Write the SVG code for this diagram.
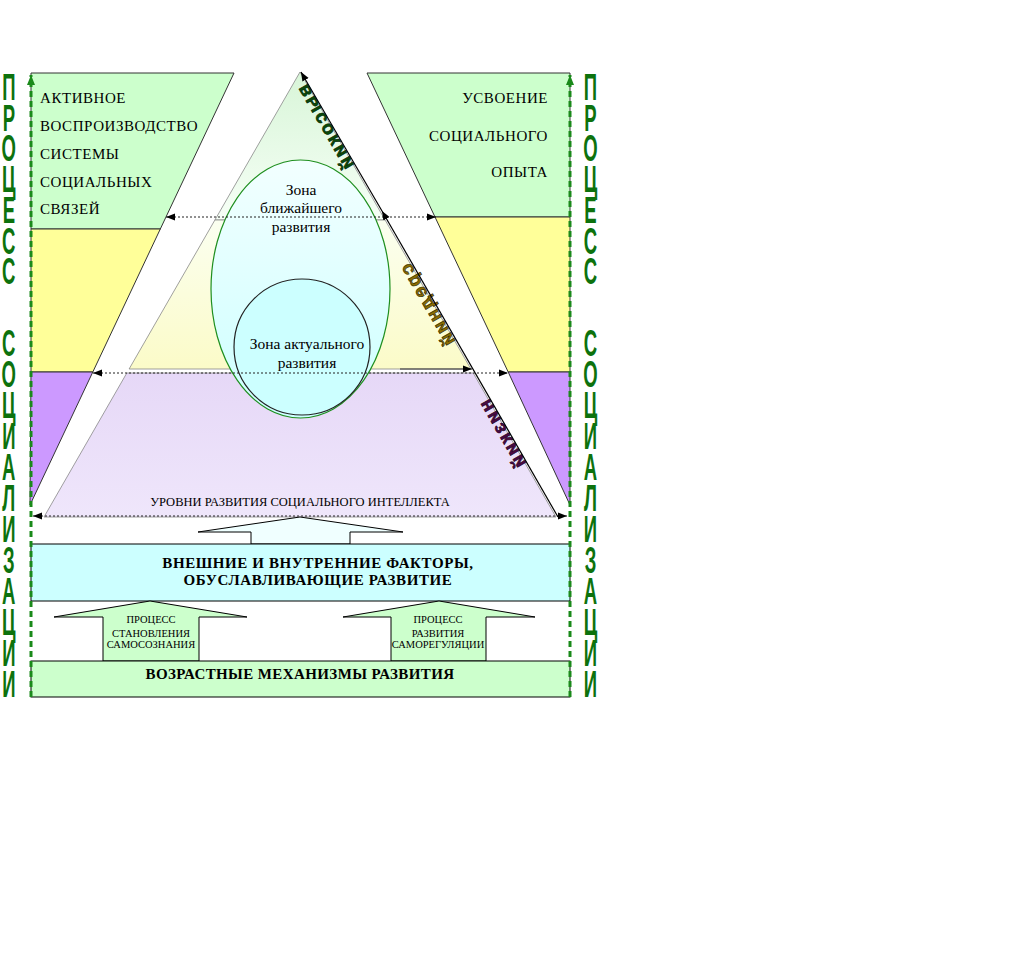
<svg xmlns="http://www.w3.org/2000/svg" width="1015" height="954" viewBox="0 0 1015 954">
<style>
.band{stroke:#333;stroke-width:1}
.pyr{stroke:#888;stroke-width:0.8}
.tx{font-family:"Liberation Serif","Times New Roman",serif;fill:#000}
.big{font-size:15px;letter-spacing:0.55px}
.bold{font-weight:bold}
.sm{font-size:10.5px}
.vt{font-family:"Liberation Sans",Arial,sans-serif;font-size:37px;font-weight:bold;fill:#0d720d;text-anchor:middle}
.dot{stroke:#222;stroke-width:1;stroke-dasharray:2 2;fill:none}
.gd{stroke:#1a8a1a;stroke-width:3;stroke-dasharray:6 4;fill:none}
.rot{font-family:"Liberation Sans",Arial,sans-serif;font-weight:bold;font-size:19px;stroke-width:0.6;letter-spacing:2px}
</style>
<defs>
<marker id="ah" viewBox="0 0 10 10" refX="10" refY="5" markerWidth="9" markerHeight="9" orient="auto-start-reverse" markerUnits="userSpaceOnUse"><path d="M0,1 L10,5 L0,9 z" fill="#000"/></marker>
<marker id="ag" viewBox="0 0 10 10" refX="10" refY="5" markerWidth="10" markerHeight="10" orient="auto" markerUnits="userSpaceOnUse"><path d="M0,1 L10,5 L0,9 z" fill="#1a8a1a"/></marker>
<linearGradient id="gTop" x1="0" y1="0" x2="0" y2="1"><stop offset="0" stop-color="#d8f5d8"/><stop offset="1" stop-color="#f6fff6"/></linearGradient>
<linearGradient id="gMid" x1="0" y1="0" x2="0" y2="1"><stop offset="0" stop-color="#fbfff0"/><stop offset="1" stop-color="#fbfbc8"/></linearGradient>
<linearGradient id="gLow" x1="0" y1="0" x2="0" y2="1"><stop offset="0" stop-color="#e6d8f7"/><stop offset="1" stop-color="#efe6fb"/></linearGradient>
<linearGradient id="gEll" x1="0" y1="0" x2="0" y2="1"><stop offset="0" stop-color="#f2ffff"/><stop offset="1" stop-color="#ccffff"/></linearGradient>
</defs>

<g id="left-band">
<polygon class="band" points="31,73 234,73 160.3,229 31,229" fill="#ccffcc"/>
<polygon class="band" points="31,229 160.3,229 92.8,372 31,372" fill="#ffff99"/>
<polygon class="band" points="31,372 92.8,372 30,505" fill="#cc99ff"/>
<text class="tx big" x="40" y="103">АКТИВНОЕ</text>
<text class="tx big" x="40" y="131">ВОСПРОИЗВОДСТВО</text>
<text class="tx big" x="40" y="159">СИСТЕМЫ</text>
<text class="tx big" x="40" y="187">СОЦИАЛЬНЫХ</text>
<text class="tx big" x="40" y="214">СВЯЗЕЙ</text>
</g>

<g id="right-band">
<polygon class="band" points="367,73 570,73 570,217 435,217" fill="#ccffcc"/>
<polygon class="band" points="435,217 570,217 570,372 508.2,372" fill="#ffff99"/>
<polygon class="band" points="508.2,372 570,372 570,505" fill="#cc99ff"/>
<text class="tx big" x="548" y="103" text-anchor="end">УСВОЕНИЕ</text>
<text class="tx big" x="548" y="141" text-anchor="end">СОЦИАЛЬНОГО</text>
<text class="tx big" x="548" y="177" text-anchor="end">ОПЫТА</text>
</g>

<g id="pyramid">
<polygon class="pyr" points="300,72 385.1,220 214.9,220" fill="url(#gTop)"/>
<polygon class="pyr" points="214.9,220 385.1,220 470.9,369 129.1,369" fill="url(#gMid)"/>
<polygon class="pyr" points="126.8,373 473.2,373 556,517 44,517" fill="url(#gLow)"/>
<text class="tx" x="300" y="506" font-size="12.5" text-anchor="middle">УРОВНИ РАЗВИТИЯ СОЦИАЛЬНОГО ИНТЕЛЛЕКТА</text>
</g>

<g id="zone-near">
<ellipse cx="300.5" cy="289" rx="89.5" ry="129" fill="url(#gEll)" stroke="#1f8f1f" stroke-width="1.2"/>
<text class="tx" x="301" y="195" font-size="15.5" text-anchor="middle">Зона</text>
<text class="tx" x="301" y="213" font-size="15.5" text-anchor="middle">ближайшего</text>
<text class="tx" x="301" y="232" font-size="15.5" text-anchor="middle">развития</text>
</g>

<g id="zone-actual">
<circle cx="302" cy="347" r="68" fill="#ccffff" stroke="#222" stroke-width="1.2"/>
<text class="tx" x="307" y="349" font-size="15.5" text-anchor="middle">Зона актуального</text>
<text class="tx" x="307" y="368" font-size="15.5" text-anchor="middle">развития</text>
</g>

<g id="level-labels">
<text class="rot" transform="translate(307,83) rotate(60) scale(1,-1)" fill="#0a4a0a" stroke="#002200">высокий</text>
<text class="rot" transform="translate(410,262) rotate(60) scale(1,-1)" fill="#8a6d00" stroke="#2a1e00">средний</text>
<text class="rot" transform="translate(489,398) rotate(60) scale(1,-1)" fill="#4a0a44" stroke="#220020" letter-spacing="4">низкий</text>
</g>

<g id="factors">
<polygon points="300,517 403,532 350,532 350,544 251,544 251,532 198,532" fill="#f0ffff" stroke="#000" stroke-width="1"/>
<rect x="31" y="544" width="539" height="57" fill="#ccffff" stroke="#000" stroke-width="1"/>
<text class="tx bold" x="318" y="568" font-size="15" letter-spacing="0.6" text-anchor="middle">ВНЕШНИЕ И ВНУТРЕННИЕ ФАКТОРЫ,</text>
<text class="tx bold" x="318" y="585" font-size="15" letter-spacing="0.6" text-anchor="middle">ОБУСЛАВЛИВАЮЩИЕ РАЗВИТИЕ</text>
</g>

<g id="self-awareness">
<polygon points="150,601 247,617 199,617 199,661 103,661 103,617 54,617" fill="#ccffcc" stroke="#000" stroke-width="1"/>
<text class="tx sm" x="151" y="623" text-anchor="middle">ПРОЦЕСС</text>
<text class="tx sm" x="151" y="637" text-anchor="middle">СТАНОВЛЕНИЯ</text>
<text class="tx sm" x="151" y="648" text-anchor="middle">САМОСОЗНАНИЯ</text>
</g>

<g id="self-regulation">
<polygon points="439,601 535,617 486,617 486,661 391,661 391,617 343,617" fill="#ccffcc" stroke="#000" stroke-width="1"/>
<text class="tx sm" x="438" y="623" text-anchor="middle">ПРОЦЕСС</text>
<text class="tx sm" x="438" y="637" text-anchor="middle">РАЗВИТИЯ</text>
<text class="tx sm" x="438" y="648" text-anchor="middle">САМОРЕГУЛЯЦИИ</text>
</g>

<g id="age-mechanisms">
<rect x="31" y="661" width="539" height="36" fill="#ccffcc" stroke="#000" stroke-width="1"/>
<text class="tx bold" x="300" y="679" font-size="15" letter-spacing="0.4" text-anchor="middle">ВОЗРАСТНЫЕ МЕХАНИЗМЫ РАЗВИТИЯ</text>
</g>

<g id="connectors">
<line class="dot" x1="166" y1="217" x2="436" y2="217" marker-start="url(#ah)" marker-end="url(#ah)"/>
<line class="dot" x1="93" y1="373" x2="508" y2="373" marker-start="url(#ah)" marker-end="url(#ah)"/>
<line class="dot" x1="33" y1="516" x2="567" y2="516" marker-start="url(#ah)" marker-end="url(#ah)"/>
<line x1="400" y1="369" x2="472" y2="369" stroke="#333" stroke-width="1" marker-end="url(#ah)"/>
<line x1="558" y1="517" x2="382" y2="211" stroke="#000" stroke-width="1.2" marker-end="url(#ah)"/>
<line x1="382" y1="211" x2="301" y2="72" stroke="#000" stroke-width="1.2" marker-end="url(#ah)"/>
<line class="gd" x1="31" y1="697" x2="31" y2="75" marker-end="url(#ag)"/>
<line class="gd" x1="570" y1="697" x2="570" y2="75" marker-end="url(#ag)"/>
</g>

<g id="process-left" transform="translate(8.8,0) scale(0.5,1)">
<text class="vt" x="0 0 0 0 0 0 0 0 0 0 0 0 0 0 0 0 0 0 0 0" y="100 131 161 192 223 254 284 320 356 387 418 449 480 511 542 573 604 635 666 697">ПРОЦЕСС СОЦИАЛИЗАЦИИ</text>
</g>

<g id="process-right" transform="translate(590.5,0) scale(0.5,1)">
<text class="vt" x="0 0 0 0 0 0 0 0 0 0 0 0 0 0 0 0 0 0 0 0" y="100 131 161 192 223 254 284 320 356 387 418 449 480 511 542 573 604 635 666 697">ПРОЦЕСС СОЦИАЛИЗАЦИИ</text>
</g>
</svg>
